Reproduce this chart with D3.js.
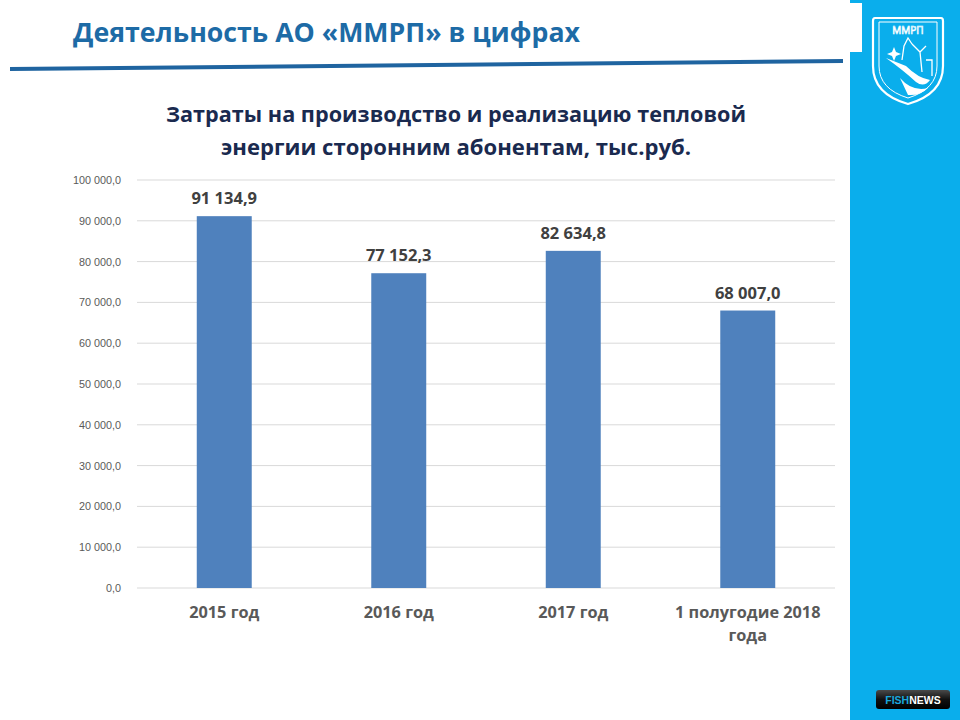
<!DOCTYPE html>
<html>
<head>
<meta charset="utf-8">
<script src="https://cdn.jsdelivr.net/npm/d3@7"></script>
<style>
  body { margin: 0; background: #fff; }
  svg { display: block; font-family: 'Open Sans', 'Noto Sans', sans-serif; }
</style>
</head>
<body>
<svg width="960" height="720"></svg>
<script>
var categories = ['2015 год', '2016 год', '2017 год', '1 полугодие 2018 года'];
var values = [91134.9, 77152.3, 82634.8, 68007.0];
var yTicks = [0, 10000, 20000, 30000, 40000, 50000, 60000, 70000, 80000, 90000, 100000];

var svg = d3.select('svg');
var padding = { t: 180, r: 125, b: 132, l: 137 };
var chartWidth = 960 - padding.l - padding.r;
var chartHeight = 720 - padding.t - padding.b;

var ru = d3.formatLocale({ decimal: ',', thousands: ' ', grouping: [3], currency: ['', ''] });
var fmt = ru.format(',.1f');

// right panel
svg.append('rect').attr('x', 850).attr('y', 0).attr('width', 110).attr('height', 720).attr('fill', '#0aaeec');
svg.append('rect').attr('x', 850).attr('y', 3).attr('width', 12).attr('height', 49).attr('fill', '#fff');

// logo
var logo = svg.append('g').attr('transform', 'translate(908,0)').attr('fill', 'none').attr('stroke', '#fff');
logo.append('path')
  .attr('d', 'M-33,18 Q-35,18 -35,21 L-35,66 Q-35,94 0,104 Q35,94 35,66 L35,21 Q35,18 33,18 Z')
  .attr('stroke-width', 2.2);
logo.append('path')
  .attr('d', 'M-29,22 L29,22 L29,66 Q29,89 0,98 Q-29,89 -29,66 Z')
  .attr('stroke-width', 1);
logo.append('text').attr('x', 0).attr('y', 34).attr('text-anchor', 'middle')
  .attr('font-size', 10).attr('fill', 'none').attr('stroke-width', 0.7).text('ММРП');
logo.append('path').attr('d', 'M-22,58 Q-5,70 8,82 Q16,88 22,80 Q10,78 -2,66 Z').attr('fill', '#fff').attr('stroke', 'none');
logo.append('path').attr('d', 'M-8,78 Q4,92 20,88 Q12,96 0,95 Z').attr('fill', '#fff').attr('stroke', 'none');
logo.append('path').attr('d', 'M-6,60 L-4,46 L0,38 L4,44 M4,44 L12,52 L18,46 M12,52 L14,72 M18,60 L24,60 L24,76')
  .attr('stroke-width', 1.3);
logo.append('path').attr('d', 'M-16,52 l2,-5 l2,5 l5,2 l-5,2 l-2,5 l-2,-5 l-5,-2 Z').attr('fill', '#fff').attr('stroke', 'none');

// FISHNEWS badge
var grad = svg.append('defs').append('linearGradient').attr('id', 'fn').attr('x1', 0).attr('y1', 0).attr('x2', 0).attr('y2', 1);
grad.append('stop').attr('offset', '0%').attr('stop-color', '#4a4a4a');
grad.append('stop').attr('offset', '50%').attr('stop-color', '#111');
grad.append('stop').attr('offset', '100%').attr('stop-color', '#000');
svg.append('rect').attr('x', 876).attr('y', 690).attr('width', 74).attr('height', 19).attr('rx', 3).attr('fill', 'url(#fn)');
var fn = svg.append('text').attr('x', 913).attr('y', 704).attr('text-anchor', 'middle')
  .attr('font-family', 'Liberation Sans, Arial, sans-serif').attr('font-size', 10.5).attr('font-weight', 'bold');
fn.append('tspan').attr('fill', '#19a6dc').text('FISH');
fn.append('tspan').attr('fill', '#fff').text('NEWS');

// header
svg.append('text').attr('x', 73).attr('y', 42)
  .attr('font-size', 26).attr('font-weight', 'bold').attr('fill', '#1d6ba6')
  .attr('textLength', 507).attr('lengthAdjust', 'spacingAndGlyphs')
  .text('Деятельность АО «ММРП» в цифрах');
svg.append('line').attr('x1', 10).attr('y1', 69).attr('x2', 843).attr('y2', 61)
  .attr('stroke', '#1f64a0').attr('stroke-width', 4);

// chart title
svg.append('text').attr('x', 456).attr('y', 122).attr('text-anchor', 'middle')
  .attr('font-size', 21).attr('font-weight', 'bold').attr('fill', '#1a2a4f')
  .attr('textLength', 580).attr('lengthAdjust', 'spacingAndGlyphs')
  .text('Затраты на производство и реализацию тепловой');
svg.append('text').attr('x', 456).attr('y', 155).attr('text-anchor', 'middle')
  .attr('font-size', 21).attr('font-weight', 'bold').attr('fill', '#1a2a4f')
  .attr('textLength', 470).attr('lengthAdjust', 'spacingAndGlyphs')
  .text('энергии сторонним абонентам, тыс.руб.');

var xScale = d3.scaleBand()
  .domain(categories)
  .range([0, chartWidth])
  .paddingInner(0.685)
  .paddingOuter(0.3425);
var yScale = d3.scaleLinear()
  .domain([0, 100000])
  .range([chartHeight, 0]);

var chartG = svg.append('g')
  .attr('transform', 'translate(' + [padding.l, padding.t] + ')');

// gridlines
chartG.selectAll('.grid')
  .data(yTicks)
  .enter().append('line')
  .attr('class', 'grid')
  .attr('x1', 0).attr('x2', chartWidth)
  .attr('y1', d => yScale(d)).attr('y2', d => yScale(d))
  .attr('stroke', '#d9d9d9').attr('stroke-width', 1);

var yAxisG = chartG.append('g')
  .call(d3.axisLeft(yScale).tickValues(yTicks).tickFormat(fmt).tickSize(0).tickPadding(16));
yAxisG.select('.domain').remove();
yAxisG.selectAll('text').attr('font-size', 10.8).attr('fill', '#595959')
  .attr('font-family', 'Liberation Sans, Arial, sans-serif');

// bars
chartG.selectAll('.bar')
  .data(values)
  .enter().append('rect')
  .attr('class', 'bar')
  .attr('x', (d, i) => xScale(categories[i]))
  .attr('y', d => yScale(d))
  .attr('width', xScale.bandwidth())
  .attr('height', d => chartHeight - yScale(d))
  .attr('fill', '#4f81bd');

chartG.selectAll('.val')
  .data(values)
  .enter().append('text')
  .attr('class', 'val')
  .attr('x', (d, i) => xScale(categories[i]) + xScale.bandwidth() / 2)
  .attr('y', d => yScale(d) - 12)
  .attr('text-anchor', 'middle')
  .attr('font-size', 16.5).attr('font-weight', 'bold').attr('fill', '#404040')
  .text(d => fmt(d));

// x labels
var xLab = chartG.selectAll('.xlab')
  .data(categories)
  .enter().append('text')
  .attr('class', 'xlab')
  .attr('text-anchor', 'middle')
  .attr('font-size', 16.3).attr('font-weight', 'bold').attr('fill', '#595959');
xLab.each(function(d) {
  var cx = xScale(d) + xScale.bandwidth() / 2;
  var lines = d.length > 12 ? ['1 полугодие 2018', 'года'] : [d];
  var t = d3.select(this);
  lines.forEach(function(l, j) {
    t.append('tspan').attr('x', cx).attr('y', chartHeight + 30 + j * 23).text(l);
  });
});
</script>
</body>
</html>
